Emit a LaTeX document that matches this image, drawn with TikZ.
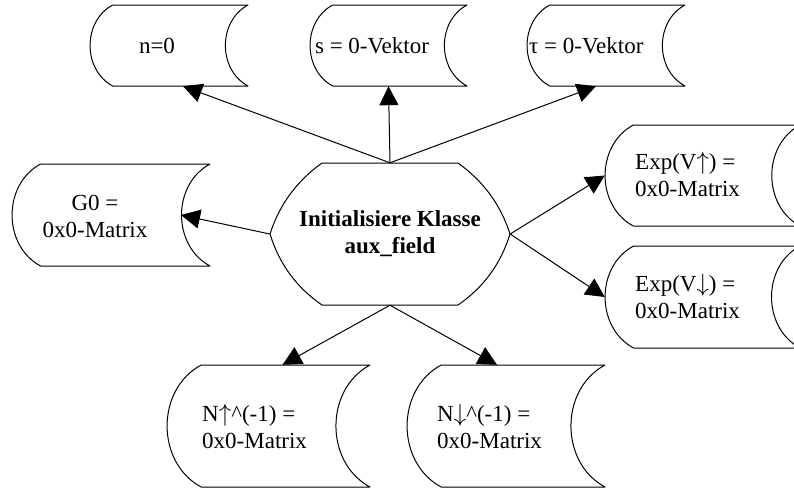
\documentclass[tikz,border=0pt]{standalone}
\usepackage{fontspec}
\setmainfont{Liberation Serif}
\usetikzlibrary{arrows.meta}
\tikzset{
  sdnode/.style={inner sep=0pt, draw=none},
  shapeline/.style={draw=black, line width=1pt, line join=round},
  lbl/.style={inner sep=0pt, font=\fontsize{23}{27}\selectfont},
  conn/.style={draw=black, line width=1pt, -{Triangle[length=19pt,width=19pt]}},
}
\newcommand\sdata[5]{%
  \pgfmathsetmacro\sdw{#4-#2}%
  \pgfmathsetmacro\sdh{#5-#3}%
  \pgfmathsetmacro\sdd{0.28*\sdh}%
  \pgfmathsetmacro\sdcx{(#2+#4)/2}%
  \pgfmathsetmacro\sdcy{(#3+#5)/2}%
  \node[sdnode, minimum width=\sdw pt, minimum height=\sdh pt] (#1) at (\sdcx,\sdcy) {};
  \draw[shapeline] ({#2+\sdd},#3) -- (#4,#3)
    .. controls ({#4-1.33*\sdd},{#3+0.2*\sdh}) and ({#4-1.33*\sdd},{#5-0.2*\sdh}) .. (#4,#5)
    -- ({#2+\sdd},#5)
    .. controls ({#2-0.33*\sdd},{#5-0.2*\sdh}) and ({#2-0.33*\sdd},{#3+0.2*\sdh}) .. cycle;
}
\begin{document}
\begin{tikzpicture}[x=1pt,y=-1pt]
\useasboundingbox (0,0) rectangle (794,488);
\clip (0,0) rectangle (794,488);
\fill[white] (0,0) rectangle (794,488);

% stored data boxes
\sdata{n0}{90}{5}{248}{86}
\sdata{s}{310}{5}{467}{86}
\sdata{tau}{527}{5}{685}{86}
\sdata{g0}{12}{164}{210}{266}
\sdata{expu}{605}{125}{800}{226}
\sdata{expd}{605}{246}{800}{348}
\sdata{nu}{167}{365}{370}{487}
\sdata{nd}{407}{365}{605}{487}

% labels
\node[lbl] (n0t) at (157,46) {n=0};
\node[lbl] (st) at (372,46) {s = 0-Vektor};
\node[lbl, anchor=west] (taut) at (529,46) {τ = 0-Vektor};
\node[lbl, align=center] (g0t) at (95,216) {G0 =\\0x0-Matrix};
\node[lbl, align=left, anchor=west] (exput) at (635,174) {Exp(V$\uparrow$) =\\0x0-Matrix};
\node[lbl, align=left, anchor=west] (expdt) at (635,296) {Exp(V$\downarrow$) =\\0x0-Matrix};
\node[lbl, align=left, anchor=west] (nut) at (202,426) {N$\uparrow$\^{}(-1) =\\0x0-Matrix};
\node[lbl, align=left, anchor=west] (ndt) at (437,426) {N$\downarrow$\^{}(-1) =\\0x0-Matrix};

% central preparation shape
\node[lbl, font=\bfseries\fontsize{23}{27}\selectfont, align=center,
      minimum width=240pt, minimum height=142pt] (c) at (390,234)
      {Initialisiere Klasse\\aux\_field};
\draw[shapeline] (322,163) -- (458,163)
  .. controls (483.4,181.1) and (500.8,205.1) .. (510,234)
  .. controls (500.7,264.2) and (483.3,287.6) .. (458,305)
  -- (322,305)
  .. controls (296.7,287.6) and (279.3,264.2) .. (270,234)
  .. controls (279.2,205.1) and (296.6,181.1) .. cycle;

\coordinate (g0in) at (181,215);

% connectors
\draw[conn] (c.north) -- ([xshift=14pt]n0.south);
\draw[conn] (c.north) -- (s.south);
\draw[conn] (c.north) -- ([xshift=-10pt]tau.south);
\draw[conn] (c.west) -- (g0in);
\draw[conn] (c.east) -- (expu.west);
\draw[conn] (c.east) -- (expd.west);
\draw[conn] (c.south) -- ([xshift=14pt]nu.north);
\draw[conn] (c.south) -- ([xshift=-9pt]nd.north);
\end{tikzpicture}
\end{document}
